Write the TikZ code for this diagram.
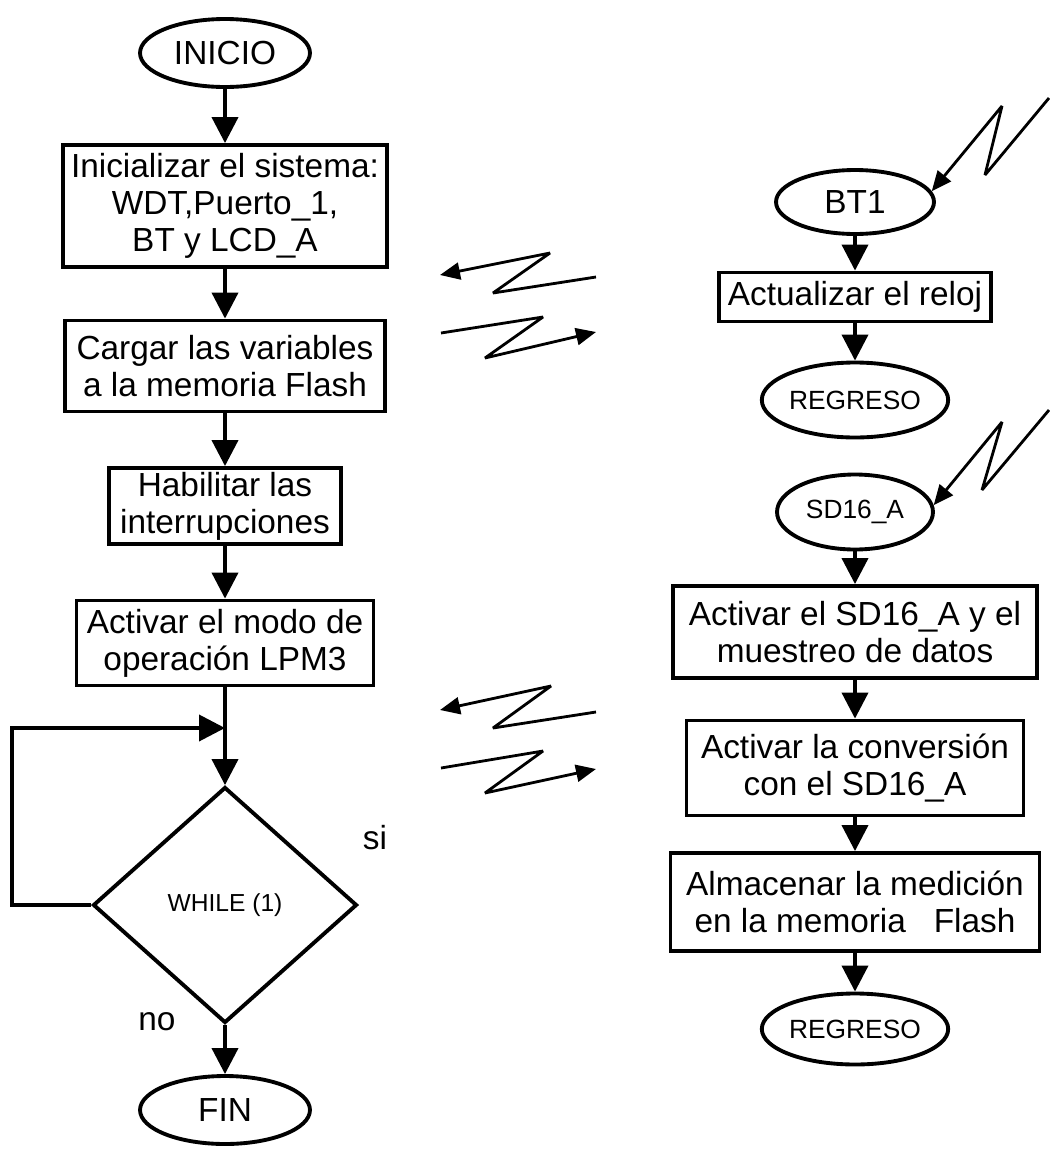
\documentclass[tikz,border=0pt]{standalone}
\usepackage{fontspec}
\setmainfont{Liberation Sans}
\usetikzlibrary{arrows.meta,shapes.geometric,positioning}

\tikzset{
    proc/.style={draw, line width=2.2pt, align=center, inner sep=0pt},
    term/.style={draw, ellipse, line width=2.2pt, inner sep=0pt},
    flow/.style={line width=2.2pt, -{Triangle[length=0.52cm,width=0.52cm]}},
    bolt/.style={line width=1.6pt, line join=bevel, -{Triangle[length=0.4cm,width=0.34cm]}},
    tagfont/.style={font=\fontsize{15}{17}\selectfont},
}

\begin{document}
\begin{tikzpicture}[x=0.02cm,y=-0.02cm,font=\fontsize{19}{21}\selectfont]
    \useasboundingbox (0,0) rectangle (1049,1160);

    % programa principal
    \node[term, minimum width=3.4cm, minimum height=1.36cm] (inicio) at (225,53) {INICIO};
    \node[proc, minimum width=6.48cm, minimum height=2.44cm] (init) at (225,206) {Inicializar el sistema:\\WDT,Puerto\_1,\\BT y LCD\_A};
    \node[proc, minimum width=6.4cm, minimum height=1.82cm] (load) at (225,366) {Cargar las variables\\a la memoria Flash};
    \node[proc, minimum width=4.64cm, minimum height=1.52cm] (enable) at (225,506) {Habilitar las\\interrupciones};
    \node[proc, minimum width=5.94cm, minimum height=1.7cm] (lpm) at (225,643) {Activar el modo de\\operación LPM3};
    \coordinate (join) at (225,728);
    \node[diamond, draw, line width=2.2pt, inner sep=0pt, minimum width=5.28cm, minimum height=4.72cm,
          font=\fontsize{14}{16}\selectfont] (loop) at (225,905) {WHILE (1)};
    \node[term, minimum width=3.4cm, minimum height=1.36cm] (fin) at (225,1110) {FIN};

    \draw[flow] (inicio) -- (init);
    \draw[flow] (init) -- (load);
    \draw[flow] (load) -- (enable);
    \draw[flow] (enable) -- (lpm);
    \draw[flow] (lpm) -- (loop);
    \draw[flow] (loop.west) -- ++(-79,0) |- (join);
    \draw[flow] (loop) -- (fin);

    \node (si) at (375,838) {si};
    \node (no) at (157,1022) {no};

    % rutina del BT
    \node[term, minimum width=3.16cm, minimum height=1.28cm] (bt) at (855,202) {BT1};
    \node[proc, minimum width=5.44cm, minimum height=0.98cm] (clock) at (855,297) {Actualizar el reloj};
    \node[term, tagfont, minimum width=3.12cm, minimum height=1.5cm] (retbt) at (855,400) {REGRESO};

    \draw[flow] (bt) -- (clock);
    \draw[flow] (clock) -- (retbt);

    \coordinate (btsrc) at (1049,98);
    \draw[bolt] (btsrc) -- (985,175) -- (1002,106) -- (bt.8);

    % rutina del SD16_A
    \node[term, tagfont, minimum width=3.12cm, minimum height=1.5cm] (sd) at (855,512) {SD16\_A};
    \node[proc, minimum width=7.28cm, minimum height=1.84cm] (start) at (855,632) {Activar el SD16\_A y el\\muestreo de datos};
    \node[proc, minimum width=6.74cm, minimum height=1.9cm] (conv) at (855,768) {Activar la conversión\\con el SD16\_A};
    \node[proc, minimum width=7.38cm, minimum height=1.96cm] (store) at (855,902) {Almacenar la medición\\en la memoria~~~Flash};
    \node[term, tagfont, minimum width=3.1cm, minimum height=1.42cm] (retsd) at (855,1029) {REGRESO};

    \draw[flow] (sd) -- (start);
    \draw[flow] (start) -- (conv);
    \draw[flow] (conv) -- (store);
    \draw[flow] (store) -- (retsd);

    \coordinate (sdsrc) at (1049,410);
    \draw[bolt] (sdsrc) -- (982,490) -- (1002,422) -- (sd.5);

    % interrupciones entre las dos columnas
    \draw[bolt] (596,277) -- (493,293) -- (550,253) -- (440,275);
    \draw[bolt] (441,333) -- (543,317) -- (485,358) -- (596,332);
    \draw[bolt] (596,712) -- (493,728) -- (551,686) -- (440,710);
    \draw[bolt] (441,768) -- (543,751) -- (485,793) -- (596,769);

\end{tikzpicture}
\end{document}
